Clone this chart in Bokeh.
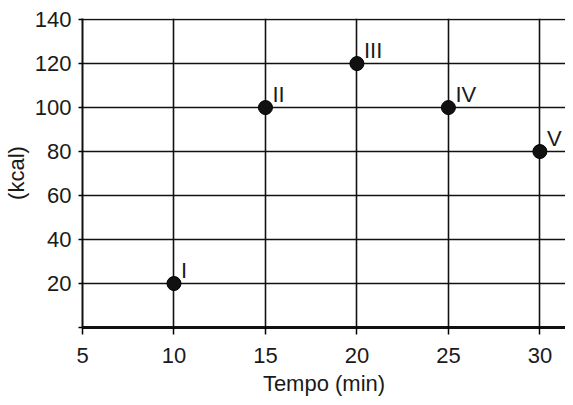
from bokeh.plotting import figure
from bokeh.models import Range1d, FixedTicker, ColumnDataSource
from bokeh.core.properties import value
from bokeh.embed import file_html
from bokeh.resources import INLINE

# Data
tempo = [10, 15, 20, 25, 30]
kcal = [20, 100, 120, 100, 80]
point_labels = ["I", "II", "III", "IV", "V"]
x_ticks = [5, 10, 15, 20, 25, 30]
y_ticks = [0, 20, 40, 60, 80, 100, 120, 140]
y_tick_labels = {0: "", 20: "20", 40: "40", 60: "60", 80: "80",
                 100: "100", 120: "120", 140: "140"}

FONT = "Liberation Sans"
INK = "#1a1a1a"

p = figure(width=565, height=403, output_backend="svg", toolbar_location=None,
           x_range=Range1d(5, 31.4), y_range=Range1d(0, 140.5),
           min_border_left=77, min_border_right=0, min_border_top=18,
           min_border_bottom=76)
p.outline_line_color = None
p.background_fill_color = "white"

# grid
for g in (p.xgrid, p.ygrid):
    g.grid_line_color = "#111111"
    g.grid_line_width = 1.6
p.xgrid.ticker = FixedTicker(ticks=x_ticks)
p.ygrid.ticker = FixedTicker(ticks=y_ticks)

# x axis
xa = p.xaxis[0]
xa.ticker = FixedTicker(ticks=x_ticks)
xa.axis_label = "Tempo (min)"
xa.axis_line_width = 3
xa.axis_line_color = "#111111"
xa.major_tick_out = 7
xa.major_tick_in = 0
xa.major_tick_line_width = 1.5
xa.minor_tick_line_color = None
xa.major_label_standoff = 13
xa.axis_label_standoff = 5
xa.major_label_text_font = FONT
xa.major_label_text_font_size = "22px"
xa.major_label_text_color = INK
xa.axis_label_text_font = FONT
xa.axis_label_text_font_size = "22px"
xa.axis_label_text_font_style = "normal"
xa.axis_label_text_color = INK

# y axis
ya = p.yaxis[0]
ya.ticker = FixedTicker(ticks=y_ticks)
ya.major_label_overrides = y_tick_labels
ya.axis_label = "(kcal)"
ya.axis_line_width = 2
ya.axis_line_color = "#111111"
ya.major_tick_out = 4
ya.major_tick_in = 0
ya.major_tick_line_width = 1.5
ya.minor_tick_line_color = None
ya.major_label_standoff = 7
ya.axis_label_standoff = 3
ya.major_label_text_font = FONT
ya.major_label_text_font_size = "22px"
ya.major_label_text_color = INK
ya.axis_label_text_font = FONT
ya.axis_label_text_font_size = "22px"
ya.axis_label_text_font_style = "normal"
ya.axis_label_text_color = INK

src = ColumnDataSource(dict(x=tempo, y=kcal, lab=point_labels))
p.scatter("x", "y", source=src, size=14, fill_color="#111111", line_color="#000000")
p.text("x", "y", text="lab", source=src, x_offset=7, y_offset=-13,
       text_font=value(FONT), text_font_size="22px", text_color=INK,
       text_baseline="alphabetic", text_align="left")

open("out.html", "w").write(file_html(p, INLINE))
